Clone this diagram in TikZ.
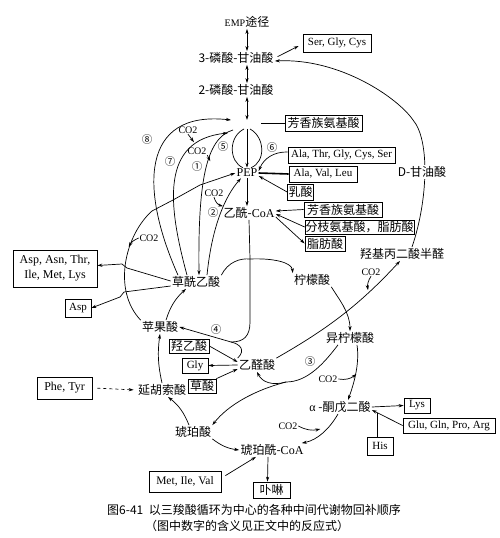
\documentclass[tikz,border=0pt]{standalone}
\usepackage{fontspec}
\setmainfont{Liberation Serif}
\newfontfamily\cjk{Noto Sans CJK SC}
\usetikzlibrary{arrows.meta}
\tikzset{
  cn/.style={inner sep=1pt, font=\cjk\fontsize{12}{13}\selectfont},
  box/.style={draw, inner xsep=1pt, inner ysep=1pt, font=\fontsize{11}{12}\selectfont},
  cnbox/.style={box, font=\cjk\fontsize{12}{13}\selectfont},
  gas/.style={inner sep=0.5pt, font=\fontsize{10}{10}\selectfont},
  num/.style={inner sep=0pt, font=\cjk\fontsize{10.5}{11}\selectfont}
}
\begin{document}
\begin{tikzpicture}[x=1pt, y=-1pt, line width=0.7pt, >={Stealth[length=5pt,width=3.2pt]}]
    \useasboundingbox (0,0) rectangle (500,538);

    \node [cn] (emp) at (247,22) {{\rmfamily\fontsize{10}{10}\selectfont EMP}途径};
    \node [cn] (pga3) at (236,58) {3-磷酸-甘油酸};
    \node [cn] (pga2) at (236,90) {2-磷酸-甘油酸};
    \node [box, minimum width=68pt, minimum height=18pt] (ser) at (337,43) {Ser, Gly, Cys};
    \node [cnbox, minimum width=77pt, minimum height=16pt] (aro1) at (323.5,123) {芳香族氨基酸};
    \node [inner sep=1pt, font=\fontsize{12}{12}\selectfont] (pep) at (247,173) {PEP};
    \node [box, minimum width=107pt, minimum height=16pt] (ala1) at (341.5,155) {Ala, Thr, Gly, Cys, Ser};
    \node [box, minimum width=68pt, minimum height=16pt] (ala2) at (323,174) {Ala, Val, Leu};
    \node [cnbox, minimum width=25pt, minimum height=16pt] (lac) at (300.5,192) {乳酸};
    \node [cn] (acoa) at (249,213) {乙酰-{\rmfamily CoA}};
    \node [cnbox, minimum width=78pt, minimum height=15pt] (aro2) at (343,209.5) {芳香族氨基酸};
    \node [cnbox, minimum width=109pt, minimum height=14pt, inner xsep=0.3pt] (bcaa) at (359.5,227) {分枝氨基酸，脂肪酸};
    \node [cnbox, minimum width=40pt, minimum height=15pt] (fa) at (325,243.5) {脂肪酸};
    \node [cn] (tsa) at (402,254) {羟基丙二酸半醛};
    \node [cn] (oaa) at (196,282) {草酰乙酸};
    \node [cn] (cit) at (312,280) {柠檬酸};
    \node [cn] (mal) at (160,327) {苹果酸};
    \node [cn] (glyox) at (257,365) {乙醛酸};
    \node [cn] (icit) at (350,338) {异柠檬酸};
    \node [cn] (fum) at (162,390) {延胡索酸};
    \node [cn] (akg) at (340,407) {{\rmfamily α} -酮戊二酸};
    \node [cn] (suc) at (193,432) {琥珀酸};
    \node [cn] (scoa) at (272,450) {琥珀酰-{\rmfamily CoA}};
    \node [box, align=center, minimum width=84pt, minimum height=37pt, font=\fontsize{12}{15}\selectfont] (aspbig) at (55,268.5) {Asp, Asn, Thr,\\Ile, Met, Lys};
    \node [box, minimum width=26pt, minimum height=18pt] (asp) at (78,308) {Asp};
    \node [cnbox, minimum width=40pt, minimum height=14pt] (glc) at (189,346) {羟乙酸};
    \node [box, minimum width=26pt, minimum height=15pt] (gly) at (195,365.5) {Gly};
    \node [cnbox, minimum width=28pt, minimum height=14pt] (oxa) at (202,386) {草酸};
    \node [box, minimum width=55pt, minimum height=22pt, font=\fontsize{12}{12}\selectfont] (phe) at (64.5,388) {Phe, Tyr};
    \node [box, minimum width=26pt, minimum height=15pt] (lys) at (417,405.5) {Lys};
    \node [box, minimum width=92pt, minimum height=15pt] (glu) at (449,425.5) {Glu, Gln, Pro, Arg};
    \node [box, minimum width=26pt, minimum height=18pt] (his) at (380,446) {His};
    \node [box, minimum width=72pt, minimum height=21pt, font=\fontsize{11.5}{12}\selectfont] (met) at (185,481.5) {Met, Ile, Val};
    \node [cnbox, minimum width=37pt, minimum height=16pt] (por) at (271.5,490) {卟啉};

    \node [gas] (co2a) at (188,130) {CO2};
    \node [gas] (co2b) at (197,151) {CO2};
    \node [gas] (co2c) at (214,193) {CO2};
    \node [gas] (co2d) at (149,238) {CO2};
    \node [gas] (co2e) at (371,272) {CO2};
    \node [gas] (co2f) at (328,379) {CO2};
    \node [gas] (co2g) at (288,426) {CO2};

    \node [num] (n1) at (197,167) {①};
    \node [num] (n2) at (213,213) {②};
    \node [num] (n3) at (310,362) {③};
    \node [num] (n4) at (216,330) {④};
    \node [num] (n5) at (223,147) {⑤};
    \node [num] (n6) at (272,148) {⑥};
    \node [num] (n7) at (170,162) {⑦};
    \node [num] (n8) at (147,140) {⑧};

    \coordinate (ax1) at (247,120);
    \coordinate (ax2) at (247,129);
    \coordinate (jn) at (250,259);
    \coordinate (j4) at (231,342);
    \coordinate (j3) at (286,382);
    \coordinate (zz) at (152,211);

    \draw [<->] (emp.south) -- (emp.south |- pga3.north);
    \draw [<->] (emp |- pga3.south) -- (emp |- pga2.north);
    \draw [<->] (emp |- pga2.south) -- (ax1);
    \draw [->] (ax2) -- (pep.north);
    \draw ([xshift=-3pt]ax2) .. controls +(-16,8) and +(-14,-6) .. ([xshift=-4pt]pep.north);
    \draw ([xshift=4pt]pep.north) .. controls +(15,-6) and +(15,8) .. ([xshift=3pt]ax2);
    \draw [->] (pep.south) -- (pep.south |- acoa.north);
    \draw [->, shorten <=3pt] (pga3.east) -- ([xshift=-4pt,yshift=-3pt]ser.west);
    \draw (aro1.west) -- ++(-24,0);

    \draw [->] ([yshift=3pt]ala1.west) to[bend right=35] ([yshift=2pt]pep.east);
    \draw [line width=1.6pt] (pep.east) -- (ala2.west);
    \draw [->] (lac.west) -- ([yshift=-3pt]pep.east);
    \draw [->] (aro2.west) -- ([yshift=2pt]acoa.east);
    \draw [->] (bcaa.west) -- ([yshift=-1pt]acoa.east);
    \draw [->] ([yshift=-4pt]acoa.east) -- (fa.west);

    \draw [->] ([xshift=10pt]tsa.north) .. controls (428,200) and (430,140) .. (413,120)
        .. controls (398,98) and (340,58) .. ([yshift=-3pt]pga3.east);
    \node [cn, fill=white] (dgly) at (422,172) {D-甘油酸};
    \draw [->] (glyox.north east) .. controls (320,333) and (355,310) .. ([xshift=-2pt]tsa.south);
    \draw [->] (co2e.south) to[bend right=20] ++(-3,14);

    \draw (acoa.south) -- (jn);
    \draw [->] (oaa.north east) .. controls (228,262) and (240,258) .. (jn)
        .. controls (272,258) and (292,262) .. (cit.north west);
    \draw (jn) -- (250,322) .. controls (250,336) and (244,342) .. (j4);
    \draw (j4) .. controls (240,344) and (246,350) .. (glyox.north west);
    \draw [->] (j4) -- (mal.east);

    \draw [->] (cit.south east) .. controls (338,298) and (350,312) .. (icit.north);
    \draw [->] ([xshift=7pt]icit.south) .. controls +(3,20) and +(5,-14) .. ([xshift=8pt]akg.north);
    \draw [->] (co2f.east) to[bend right=25] ++(18,-5);
    \draw ([xshift=-12pt]icit.south) .. controls (325,362) and (308,382) .. (j3);
    \draw [->] (j3) .. controls (272,386) and (262,382) .. (glyox.south);
    \draw [->] (j3) .. controls (255,390) and (228,405) .. (suc.north east);

    \draw [->] (glc.east) -- ([yshift=3pt]glyox.west);
    \draw [->] (glyox.west) -- (gly.east);
    \draw [->] (oxa.north east) -- ([yshift=-4pt]glyox.west);

    \draw [->] ([xshift=6pt]mal.north) to[bend left=15] ([xshift=-10pt]oaa.south);
    \draw [->] (fum.north) to[bend left=10] (mal.south);
    \draw [->, dashed, shorten <=5pt, shorten >=3pt] (phe.east) -- (fum.west);
    \draw [->] ([xshift=-4pt]suc.north) to[bend right=15] ([xshift=6pt]fum.south);
    \draw [->] (suc.south east) to[bend right=15] (scoa.west);
    \draw [->] ([xshift=-2pt]akg.south) .. controls (330,428) and (318,440) .. ([xshift=-3pt]scoa.north east);
    \draw [->] (co2g.east) to[bend right=20] ++(22,3);
    \draw [->] (akg.east) -- (lys.west);
    \draw [->] (glu.west) -- ([yshift=-3pt]akg.east);
    \draw ([xshift=-3pt]his.north) -- ++(0,-24);
    \draw [->] ([xshift=4pt,yshift=-5pt]met.north east) -- ([xshift=-16pt]scoa.south);
    \draw [->] ([xshift=-4pt]scoa.south) -- ([xshift=-4pt]por.north);

    \draw [->] ([yshift=1pt]oaa.west) -- (127,268) -- (122,264) -- ([yshift=3pt]aspbig.east);
    \draw [->] ([yshift=-4pt]oaa.west) -- (124,292) -- (120,297) -- (asp.east);

    \draw [->] ([xshift=-18pt]oaa.north) .. controls (140,190) and (140,110) .. ([xshift=-16pt]ax1);
    \draw [->] ([xshift=-9pt]oaa.north) .. controls (168,205) and (160,140) .. ([xshift=-19pt,yshift=-4pt]ax2);
    \draw [->] ([xshift=-14pt,yshift=-1pt]ax2) .. controls (205,138) and (198,185) .. ([xshift=3pt]oaa.north);
    \draw [->] ([xshift=11pt]oaa.north) .. controls (212,225) and (226,195) .. ([xshift=-6pt]pep.south);
    \draw [->] (mal.north west) .. controls (112,290) and (125,235) .. (zz) -- (173,200) -- (200,185) -- (pep.west);

    \draw [->] (co2a.south) -- ++(6,8);
    \draw [->] (co2b.south east) -- ++(3,6);
    \draw [->] (co2c.south) to[bend right=30] ++(9,9);
    \draw [->] (co2d.west) to[bend right=20] ++(-10,9);

    \node [cn] (cap1) at (254,510) {图6-41\ \ 以三羧酸循环为中心的各种中间代谢物回补顺序};
    \node [cn] (cap2) at (247,526) {（图中数字的含义见正文中的反应式）};
\end{tikzpicture}
\end{document}
